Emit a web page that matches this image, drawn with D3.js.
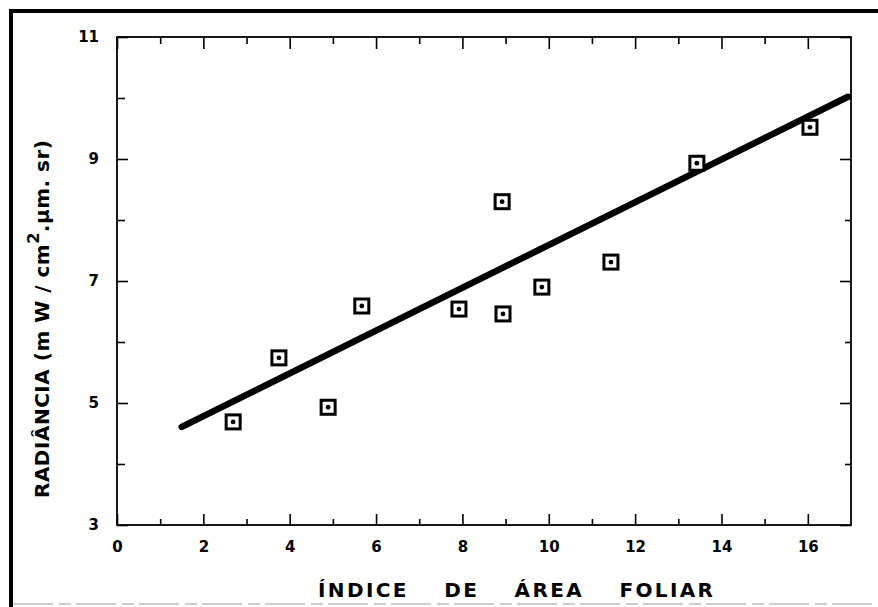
<!DOCTYPE html>
<html>
<head>
<meta charset="utf-8">
<script src="https://cdn.jsdelivr.net/npm/d3@7"></script>
<style>
  body { margin: 0; background: #fff; }
  text { font-family: "DejaVu Sans", sans-serif; font-weight: bold; fill: #000; }
</style>
</head>
<body>
<div id="chart"></div>
<script>
// data
var iaf       = [2.69, 3.75, 4.89, 5.67, 7.92, 8.92, 8.94, 9.84, 11.44, 13.43, 16.05];
var radiancia = [4.69, 5.74, 4.93, 6.59, 6.54, 8.30, 6.46, 6.90, 7.31, 8.93, 9.52];

// fitted line, ends
var fitX = [1.5, 16.93];
var fitY = [4.61, 10.02];

var xMajor = [0, 2, 4, 6, 8, 10, 12, 14, 16];
var xMinor = [1, 3, 5, 7, 9, 11, 13, 15];
var yMajor = [3, 5, 7, 9, 11];
var yMinor = [4, 6, 8, 10];

var xTitle = "ÍNDICE DE ÁREA FOLIAR";

var width = 878, height = 607;
var margin = {left: 117, right: 27, top: 37, bottom: 82};

var svg = d3.select("#chart").append("svg")
    .attr("width", width)
    .attr("height", height);

var x = d3.scaleLinear().domain([0, 17]).range([margin.left, width - margin.right]);
var y = d3.scaleLinear().domain([3, 11]).range([height - margin.bottom, margin.top]);

// outer frame of the scanned page (left and top edges only)
svg.append("line")
    .attr("x1", 11).attr("x2", 11).attr("y1", 9).attr("y2", height)
    .attr("stroke", "#000").attr("stroke-width", 4);
svg.append("line")
    .attr("x1", 9).attr("x2", width).attr("y1", 11).attr("y2", 11)
    .attr("stroke", "#000").attr("stroke-width", 4);
svg.append("line")
    .attr("x1", 13).attr("x2", width).attr("y1", 604).attr("y2", 604)
    .attr("stroke", "#bbb").attr("stroke-width", 1.5)
    .attr("stroke-dasharray", "40,6,12,5");

function styleAxis(g) {
  g.select(".domain").remove();
  g.selectAll(".tick line").attr("stroke", "#000").attr("stroke-width", 1.6);
  g.selectAll("text").attr("font-size", 15).attr("font-family", null);
}

// bottom
svg.append("g")
    .attr("transform", "translate(0," + y(3) + ")")
    .call(d3.axisBottom(x).tickValues(xMajor).tickSize(-11).tickSizeOuter(0)
      .tickPadding(16).tickFormat(d3.format("d")))
    .call(styleAxis);
svg.append("g")
    .attr("transform", "translate(0," + y(3) + ")")
    .call(d3.axisBottom(x).tickValues(xMinor).tickSize(-6).tickSizeOuter(0).tickFormat(""))
    .call(styleAxis);

// top
svg.append("g")
    .attr("transform", "translate(0," + y(11) + ")")
    .call(d3.axisTop(x).tickValues(xMajor).tickSize(-12).tickSizeOuter(0).tickFormat(""))
    .call(styleAxis);
svg.append("g")
    .attr("transform", "translate(0," + y(11) + ")")
    .call(d3.axisTop(x).tickValues(xMinor).tickSize(-7).tickSizeOuter(0).tickFormat(""))
    .call(styleAxis);

// left
svg.append("g")
    .attr("transform", "translate(" + x(0) + ",0)")
    .call(d3.axisLeft(y).tickValues(yMajor).tickSize(-11).tickSizeOuter(0)
      .tickPadding(18).tickFormat(d3.format("d")))
    .call(styleAxis);
svg.append("g")
    .attr("transform", "translate(" + x(0) + ",0)")
    .call(d3.axisLeft(y).tickValues(yMinor).tickSize(-8).tickSizeOuter(0).tickFormat(""))
    .call(styleAxis);

// right
svg.append("g")
    .attr("transform", "translate(" + x(17) + ",0)")
    .call(d3.axisRight(y).tickValues(yMajor).tickSize(-11).tickSizeOuter(0).tickFormat(""))
    .call(styleAxis);
svg.append("g")
    .attr("transform", "translate(" + x(17) + ",0)")
    .call(d3.axisRight(y).tickValues(yMinor).tickSize(-6).tickSizeOuter(0).tickFormat(""))
    .call(styleAxis);

// plot frame
svg.append("rect")
    .attr("x", x(0)).attr("y", y(11))
    .attr("width", x(17) - x(0)).attr("height", y(3) - y(11))
    .attr("fill", "none").attr("stroke", "#000").attr("stroke-width", 1.8);

// regression line
var line = d3.line()
    .x(function(d) { return x(d[0]); })
    .y(function(d) { return y(d[1]); });

svg.append("path")
    .datum(d3.zip(fitX, fitY))
    .attr("d", line)
    .attr("fill", "none")
    .attr("stroke", "#000")
    .attr("stroke-width", 6.5)
    .attr("stroke-linecap", "round");

// points: square with centre dot
var pts = svg.selectAll(".pt")
    .data(d3.zip(iaf, radiancia))
    .enter().append("g")
    .attr("class", "pt")
    .attr("transform", function(d) { return "translate(" + x(d[0]) + "," + y(d[1]) + ")"; });

pts.append("rect")
    .attr("x", -7).attr("y", -7).attr("width", 14).attr("height", 14)
    .attr("fill", "#fff").attr("stroke", "#000").attr("stroke-width", 3);
pts.append("circle")
    .attr("r", 2.4).attr("fill", "#000");

// x title
svg.append("text")
    .attr("x", 318).attr("y", 597)
    .attr("font-size", 20)
    .attr("textLength", 395)
    .attr("lengthAdjust", "spacing")
    .style("word-spacing", "26px")
    .text(xTitle);

// y title
var yt = svg.append("text")
    .attr("transform", "translate(49,498) rotate(-90)")
    .attr("font-size", 20)
    .attr("textLength", 358)
    .attr("lengthAdjust", "spacing");
yt.append("tspan").text("RADIÂNCIA ");
yt.append("tspan").text("(m W / cm");
yt.append("tspan").attr("dy", -10).attr("font-size", 16).text("2");
yt.append("tspan").attr("dy", 10).text(".µm. sr)");
</script>
</body>
</html>
